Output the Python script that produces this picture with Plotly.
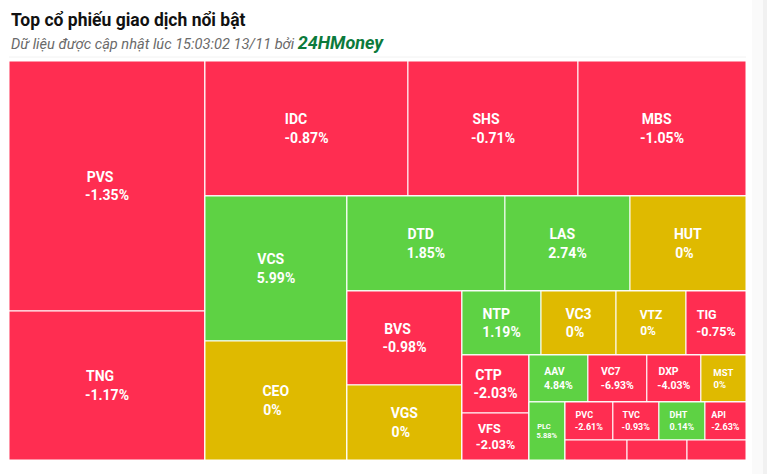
import plotly.graph_objects as go

# Tickers, trading value (estimated from tile areas) and % change
tickers = ["PVS", "TNG", "IDC", "SHS", "MBS", "VCS", "CEO", "DTD", "LAS", "HUT",
           "BVS", "VGS", "NTP", "VC3", "VTZ", "TIG", "CTP", "VFS", "AAV", "VC7",
           "DXP", "MST", "PLC", "PVC", "TVC", "DHT", "API", "K1", "K2", "K3"]
values = [490.0, 292.0, 274.0, 229.5, 226.8, 205.9, 169.0, 150.1, 118.8, 110.2,
          108.1, 86.3, 50.6, 48.0, 44.8, 38.4, 38.9, 31.5, 27.7, 27.7,
          25.4, 21.2, 20.9, 18.2, 17.5, 17.5, 15.6, 12.4, 12.0, 11.8]
changes = [-1.35, -1.17, -0.87, -0.71, -1.05, 5.99, 0, 1.85, 2.74, 0,
           -0.98, 0, 1.19, 0, 0, -0.75, -2.03, -2.03, 4.84, -6.93,
           -4.03, 0, 5.88, -2.61, -0.93, 0.14, -2.63, -1.0, -1.0, -1.0]
hidden = ["K1", "K2", "K3"]  # tiles too small to be labelled

# Order in which the tiles are laid out (alternating columns / rows)
groups = [["PVS", "TNG"], ["IDC", "SHS", "MBS"], ["VCS", "CEO"], ["DTD", "LAS", "HUT"],
          ["BVS", "VGS"], ["NTP", "VC3", "VTZ", "TIG"], ["CTP", "VFS"],
          ["AAV", "VC7", "DXP", "MST"], ["PLC"], ["PVC", "TVC", "DHT", "API"], ["K1", "K2", "K3"]]

font_sizes = {"PVS": 14, "TNG": 14, "IDC": 14, "SHS": 14, "MBS": 14, "VCS": 14, "CEO": 14,
              "DTD": 14, "LAS": 14, "HUT": 14, "BVS": 14, "VGS": 14, "NTP": 14, "VC3": 14,
              "VTZ": 12, "TIG": 12.5, "CTP": 14, "VFS": 12.5, "AAV": 10.5, "VC7": 10.5,
              "DXP": 10.5, "MST": 9.5, "PLC": 7.5, "PVC": 9, "TVC": 9, "DHT": 9, "API": 9,
              "K1": 8, "K2": 8, "K3": 8}

RED, GREEN, YELLOW = "#FF2D51", "#5ED244", "#DFBA00"


def color_of(c):
    if c > 0:
        return GREEN
    if c < 0:
        return RED
    return YELLOW


def fmt(c):
    return "0%" if c == 0 else "%.2f%%" % c


# approximate glyph widths (em) of bold Roboto, used to left-align the two lines
GW = {"-": 0.30, ".": 0.27, "%": 0.74, " ": 0.25}


def text_w(s):
    w = 0
    for ch in s:
        if ch in GW:
            w += GW[ch]
        elif ch.isdigit():
            w += 0.56
        elif ch in "MW":
            w += 0.86
        elif ch == "I":
            w += 0.28
        else:
            w += 0.64
    return w


def label_text(t, c):
    pct = fmt(c)
    diff = text_w(pct) - text_w(t)
    pad_l = "\u00a0" * max(0, int(round(diff / 0.25)))
    pad_p = "\u00a0" * max(0, int(round(-diff / 0.25)))
    return "<b>%s%s<br>%s%s</b>" % (t, pad_l, pct, pad_p)


val = dict(zip(tickers, values))
chg = dict(zip(tickers, changes))

ids, labels, parents, vals, colors, texts, sizes = [], [], [], [], [], [], []


def add(i, lab, par, v, col, txt, sz):
    ids.append(i); labels.append(lab); parents.append(par); vals.append(v)
    colors.append(col); texts.append(txt); sizes.append(sz)


add("root", "", "", 0, "white", "", 10)
container = "root"
n = len(groups)
for gi, g in enumerate(groups):
    gid = "g%d" % gi
    add(gid, "", container, 0, "white", "", 10)
    for t in g:
        add(t, t, gid, val[t], color_of(chg[t]),
            "" if t in hidden else label_text(t, chg[t]), font_sizes[t])
    if gi < n - 2:
        rid = "r%d" % gi
        add(rid, "", container, 0, "white", "", 10)
        container = rid

fig = go.Figure(go.Treemap(
    ids=ids,
    labels=labels,
    parents=parents,
    values=vals,
    text=texts,
    texttemplate="%{text}",
    textposition="middle center",
    textfont=dict(family="Roboto", color="white", size=sizes),
    marker=dict(colors=colors, line=dict(color="white", width=1),
                pad=dict(t=0, l=0, r=0, b=0)),
    sort=False,
    tiling=dict(packing="slice-dice", pad=0),
    pathbar=dict(visible=False),
    hoverinfo="label+value",
    domain=dict(x=[9 / 767, 746 / 767], y=[14 / 474, 413 / 474]),
))

fig.update_layout(
    width=767, height=474,
    margin=dict(l=0, r=0, t=0, b=0),
    paper_bgcolor="white",
    showlegend=False,
    annotations=[
        dict(text="<b>Top cổ phiếu giao dịch nổi bật</b>", x=9 / 767, y=1 - 20 / 474,
             xref="paper", yref="paper", xanchor="left", yanchor="middle", showarrow=False,
             font=dict(family="Roboto", size=17.5, color="#111111")),
        dict(text="<i>Dữ liệu được cập nhật lúc 15:03:02 13/11 bởi </i>"
                  "<span style='color:#0B7A3B;font-size:18px'><b><i>24HMoney</i></b></span>",
             x=9 / 767, y=1 - 42 / 474,
             xref="paper", yref="paper", xanchor="left", yanchor="middle", showarrow=False,
             font=dict(family="Roboto", size=14.6, color="#6A6A6A")),
    ],
    shapes=[
        dict(type="line", xref="paper", yref="paper", x0=9 / 767, x1=746 / 767,
             y0=1 - 57 / 474, y1=1 - 57 / 474, line=dict(color="#F2F2F2", width=1)),
        dict(type="rect", xref="paper", yref="paper", x0=752 / 767, x1=1,
             y0=0, y1=1, fillcolor="#FAFAFA", line=dict(width=0), layer="below"),
        dict(type="rect", xref="paper", yref="paper", x0=763 / 767, x1=1,
             y0=0, y1=1, fillcolor="#F1F1F1", line=dict(width=0), layer="below"),
    ],
)

fig.write_html("out.html", config={"displayModeBar": False},
               post_script="document.body.style.margin='0px';")
